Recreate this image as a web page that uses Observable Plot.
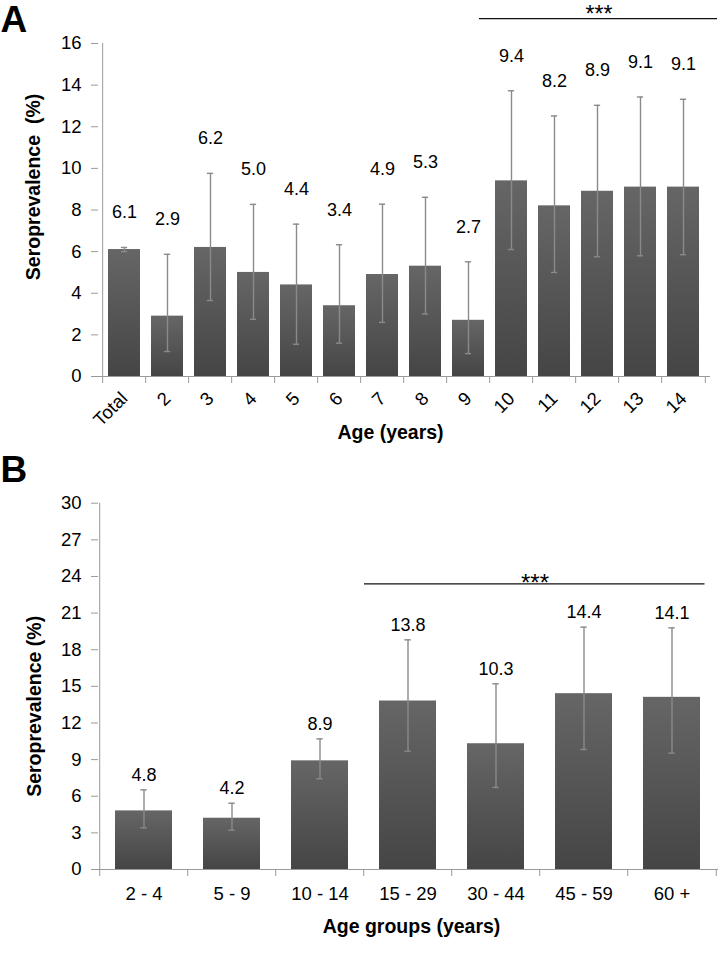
<!DOCTYPE html>
<html>
<head>
<meta charset="utf-8">
<script src="https://cdn.jsdelivr.net/npm/d3@7"></script>
<script src="https://cdn.jsdelivr.net/npm/@observablehq/plot@0.6"></script>
<style>
  body { margin: 0; background: #fff; }
  #chart { width: 723px; font-family: "Liberation Sans", Arial, Helvetica, sans-serif; }
  #chart svg { display: block; }
</style>
</head>
<body>
<div id="chart"></div>
<script>
// ---------- Panel A data ----------
const ageA = ["Total", "2", "3", "4", "5", "6", "7", "8", "9", "10", "11", "12", "13", "14"];
const prevA = [6.1, 2.9, 6.2, 5.0, 4.4, 3.4, 4.9, 5.3, 2.7, 9.4, 8.2, 8.9, 9.1, 9.1];
const lowA  = [6.0, 1.2, 3.65, 2.75, 1.55, 1.6, 2.6, 3.0, 1.1, 6.1, 5.0, 5.75, 5.8, 5.85];
const highA = [6.2, 5.87, 9.76, 8.27, 7.32, 6.33, 8.28, 8.61, 5.51, 13.73, 12.52, 13.03, 13.43, 13.32];
const ticksA = [0, 2, 4, 6, 8, 10, 12, 14, 16];
const sigSpanA = ["10", "14"];
const sigMidA = "12";
const sigLevelA = 17.2;

// ---------- Panel B data ----------
const groupsB = ["2 - 4", "5 - 9", "10 - 14", "15 - 29", "30 - 44", "45 - 59", "60 +"];
const prevB = [4.8, 4.2, 8.9, 13.8, 10.3, 14.4, 14.1];
const lowB  = [3.41, 3.22, 7.43, 9.69, 6.72, 9.83, 9.53];
const highB = [6.52, 5.43, 10.70, 18.81, 15.21, 19.85, 19.79];
const ticksB = [0, 3, 6, 9, 12, 15, 18, 21, 24, 27, 30];
const sigSpanB = ["15 - 29", "60 +"];
const sigMidB = "30 - 44";
const sigLevelB = 23.4;

const W = 723;
const font = '"Liberation Sans", Arial, Helvetica, sans-serif';
const axisGray = "#9a9a9a";
const errGray = "#8a8a8a";
const fmt = d3.format(".1f");

function addGradient(svg, id) {
  const defs = d3.select(svg).insert("defs", ":first-child");
  const g = defs.append("linearGradient").attr("id", id)
    .attr("x1", 0).attr("y1", 0).attr("x2", 0).attr("y2", 1);
  g.append("stop").attr("offset", "0%").attr("stop-color", "#666666");
  g.append("stop").attr("offset", "100%").attr("stop-color", "#454545");
}

function panel(cfg) {
  const {cats, prev, low, high, ticks, yMax, m, h, pad, spanCats, midCat, sigLevel,
         sigInsetL, sigInsetR, starDx, starDy, starSize, valDy, letter, letterDy,
         xRotate, xPad, xTitle, xTitleDx, xTitleDy, yTitle, yTitleDx, yTitleDy, gradId} = cfg;
  const data = cats.map((c, i) => ({c, p: prev[i], lo: low[i], hi: high[i]}));
  const step = (W - m.left - m.right) / cats.length;
  const bw = step * (1 - pad);
  const capInset = (bw - 7) / 2;
  const plot = Plot.plot({
    width: W,
    height: h,
    marginTop: m.top, marginRight: m.right, marginBottom: m.bottom, marginLeft: m.left,
    style: {fontFamily: font, fontSize: "18px", color: "#000", background: "#fff", overflow: "visible"},
    x: {domain: cats, paddingInner: pad, paddingOuter: pad / 2},
    y: {domain: [0, yMax]},
    marks: [
      Plot.barY(data, {x: "c", y: "p", fill: `url(#${gradId})`}),
      // y axis line
      Plot.ruleX([cats[0]], {x: d => d, y1: 0, y2: yMax, dx: -step / 2, stroke: axisGray, strokeWidth: 1}),
      // x axis line
      Plot.ruleY([0], {stroke: axisGray, strokeWidth: 1}),
      Plot.axisY({ticks, tickSize: 7, tickPadding: 10, stroke: axisGray, fill: "#000", fontSize: 18.5, label: null}),
      // boundary ticks (Excel style)
      Plot.axisX({tickSize: 7, tickFormat: () => "", dx: -step / 2, stroke: axisGray, label: null}),
      Plot.axisX({ticks: [cats[cats.length - 1]], tickSize: 7, tickFormat: () => "", dx: step / 2, stroke: axisGray, label: null}),
      // category labels
      Plot.axisX({tickSize: 0, tickPadding: xPad, tickRotate: xRotate, fill: "#000", fontSize: 18.5, label: null}),
      // error bars
      Plot.ruleX(data, {x: "c", y1: "lo", y2: "hi", stroke: errGray, strokeWidth: 1.4}),
      Plot.tickY(data, {x: "c", y: "lo", stroke: errGray, strokeWidth: 1.4, insetLeft: capInset, insetRight: capInset}),
      Plot.tickY(data, {x: "c", y: "hi", stroke: errGray, strokeWidth: 1.4, insetLeft: capInset, insetRight: capInset}),
      // value labels
      Plot.text(data, {x: "c", y: "hi", text: d => fmt(d.p), dy: valDy, fontSize: 18, fill: "#000"}),
      // significance line and stars
      Plot.ruleY([{y: sigLevel, a: spanCats[0], b: spanCats[1]}],
        {y: "y", x1: "a", x2: "b", insetLeft: sigInsetL, insetRight: sigInsetR, stroke: "#111", strokeWidth: 1.3}),
      Plot.text([{y: sigLevel, x: midCat}], {x: "x", y: "y", text: () => "***", dx: starDx, dy: starDy,
        lineAnchor: "bottom", fontSize: starSize, fill: "#000"}),
      // axis titles
      Plot.text([xTitle], {text: d => d, frameAnchor: "bottom", textAnchor: "middle", dx: xTitleDx, dy: xTitleDy,
        fontWeight: "bold", fontSize: 19.5, fill: "#000"}),
      Plot.text([yTitle], {text: d => d, frameAnchor: "left", textAnchor: "middle", rotate: -90, dx: yTitleDx, dy: yTitleDy,
        fontWeight: "bold", fontSize: 19.5, fill: "#000"}),
      // panel letter
      Plot.text([letter], {text: d => d, frameAnchor: "top-left", dx: -m.left, dy: letterDy,
        lineAnchor: "top", fontWeight: "bold", fontSize: 37, fill: "#000"})
    ]
  });
  addGradient(plot, gradId);
  return plot;
}

const chart = document.getElementById("chart");

chart.appendChild(panel({
  cats: ageA, prev: prevA, low: lowA, high: highA, ticks: ticksA, yMax: 16,
  m: {top: 43, right: 13, bottom: 74, left: 98}, h: 450, pad: 0.25,
  spanCats: sigSpanA, midCat: sigMidA, sigLevel: sigLevelA, sigInsetL: -16, sigInsetR: -18,
  starDx: 1.5, starDy: 3, starSize: 23, valDy: -35, letter: "A", letterDy: -38,
  xRotate: -45, xPad: 19,
  xTitle: "Age (years)", xTitleDx: -14, xTitleDy: 62,
  yTitle: "Seroprevalence\u00a0 (%)", yTitleDx: -64.5, yTitleDy: -23, gradId: "gradA"
}));

chart.appendChild(panel({
  cats: groupsB, prev: prevB, low: lowB, high: highB, ticks: ticksB, yMax: 30,
  m: {top: 52.7, right: 5, bottom: 90, left: 98}, h: 509, pad: 0.35,
  spanCats: sigSpanB, midCat: sigMidB, sigLevel: sigLevelB, sigInsetL: -15, sigInsetR: -4.5,
  starDx: 39, starDy: 7, starSize: 24, valDy: -15, letter: "B", letterDy: -47.7,
  xRotate: 0, xPad: 17,
  xTitle: "Age groups (years)", xTitleDx: 3, xTitleDy: 63,
  yTitle: "Seroprevalence (%)", yTitleDx: -64, yTitleDy: 20, gradId: "gradB"
}));
</script>
</body>
</html>
